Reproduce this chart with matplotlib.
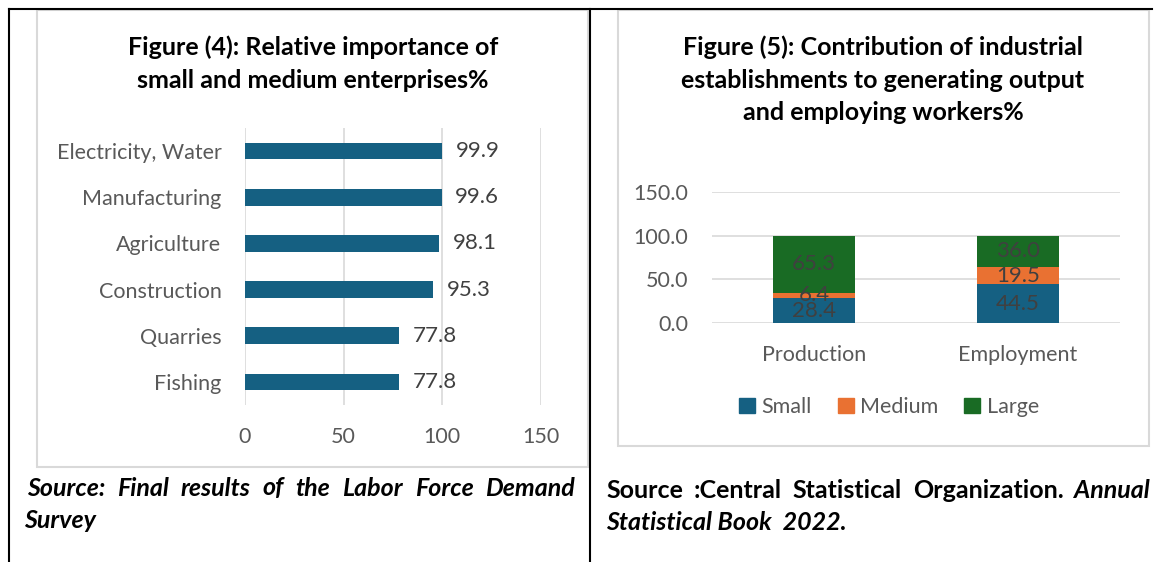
import matplotlib
matplotlib.use("Agg")
import matplotlib.pyplot as plt
from matplotlib.patches import Rectangle, Patch
from matplotlib.lines import Line2D

# Figure (4) data
sectors = ["Electricity, Water", "Manufacturing", "Agriculture", "Construction", "Quarries", "Fishing"]
sme_share = [99.9, 99.6, 98.1, 95.3, 77.8, 77.8]

# Figure (5) data
groups = ["Production", "Employment"]
small = [28.4, 44.5]
medium = [6.4, 19.5]
large = [65.3, 36.0]

W, H = 1159, 562
plt.rcParams['font.family'] = ['Lato', 'DejaVu Sans']
grey_txt = '#595959'
grid_c = '#D9D9D9'
blue, orange, green = '#156082', '#E97132', '#196B24'

fig = plt.figure(figsize=(W / 100, H / 100), dpi=100)


def fx(x):
    return x / W


def fy(y):
    return 1 - y / H


def box(x0, y0, x1, y1, **kw):
    fig.add_artist(Rectangle((fx(x0), fy(y1)), fx(x1) - fx(x0), fy(y0) - fy(y1),
                             transform=fig.transFigure, fill=False, **kw))


def line(xs, ys, **kw):
    fig.add_artist(Line2D([fx(x) for x in xs], [fy(y) for y in ys],
                          transform=fig.transFigure, **kw))


# document table borders and chart frames
line([9, 1152], [9, 9], color='black', lw=1.5)
line([9, 9], [9, 562], color='black', lw=1.5)
line([590, 590], [9, 562], color='black', lw=1.5)
box(37, 10, 588, 467, edgecolor=grid_c, lw=1.5)
box(618, 10, 1149, 446, edgecolor=grid_c, lw=1.5)

# ---- Figure (4): horizontal bars
ax1 = fig.add_axes([fx(245), fy(405), fx(541) - fx(245), fy(128) - fy(405)])
pos = list(range(len(sectors)))
ax1.barh(pos, sme_share, height=0.36, color=blue, zorder=3)
ax1.set_ylim(5.5, -0.5)
ax1.set_xlim(0, 150)
ax1.set_xticks([0, 50, 100, 150])
ax1.set_yticks(pos)
ax1.set_yticklabels(sectors)
ax1.grid(axis='x', color=grid_c, lw=1.2, zorder=0)
for s in ax1.spines.values():
    s.set_visible(False)
ax1.tick_params(length=0, labelsize=15.5, labelcolor=grey_txt)
ax1.tick_params(axis='x', pad=16)
ax1.tick_params(axis='y', pad=17)
for p, v in zip(pos, sme_share):
    ax1.text(v + 7, p, f"{v:.1f}", va='center', ha='left', fontsize=16, color='#404040')

fig.text(fx(313), fy(47), "Figure (4): Relative importance of", ha='center', va='center',
         fontsize=18, fontweight='bold', color='black')
fig.text(fx(313), fy(80), "small and medium enterprises%", ha='center', va='center',
         fontsize=18, fontweight='bold', color='black')

# ---- Figure (5): stacked columns
ax2 = fig.add_axes([fx(712), fy(323), fx(1120) - fx(712), fy(192) - fy(323)])
xpos = list(range(len(groups)))
bottoms2 = small
bottoms3 = [a + b for a, b in zip(small, medium)]
b1 = ax2.bar(xpos, small, width=0.4, color=blue, zorder=3)
b2 = ax2.bar(xpos, medium, width=0.4, bottom=bottoms2, color=orange, zorder=3)
b3 = ax2.bar(xpos, large, width=0.4, bottom=bottoms3, color=green, zorder=3)
for bars in (b1, b2, b3):
    ax2.bar_label(bars, labels=[f"{b.get_height():.1f}" for b in bars], label_type='center',
                  fontsize=16, color='#404040', zorder=4)
ax2.set_xlim(-0.5, 1.5)
ax2.set_ylim(0, 150)
ax2.set_yticks([0, 50, 100, 150])
ax2.set_yticklabels([f"{t:.1f}" for t in [0, 50, 100, 150]])
ax2.set_xticks(xpos)
ax2.set_xticklabels(groups)
ax2.grid(axis='y', color=grid_c, lw=1.2, zorder=0)
for s in ax2.spines.values():
    s.set_visible(False)
ax2.tick_params(length=0, labelsize=15.5, labelcolor=grey_txt)
ax2.tick_params(axis='x', pad=16)
ax2.tick_params(axis='y', pad=17)

handles = [Patch(color=blue, label='Small'), Patch(color=orange, label='Medium'),
           Patch(color=green, label='Large')]
leg = fig.legend(handles=handles, loc='center', bbox_to_anchor=(fx(889), fy(407)), ncol=3,
                 frameon=False, fontsize=15.5, handlelength=0.75, handleheight=0.75,
                 handletextpad=0.3, columnspacing=1.2)
for t in leg.get_texts():
    t.set_color(grey_txt)

fig.text(fx(883), fy(47), "Figure (5): Contribution of industrial", ha='center', va='center',
         fontsize=18, fontweight='bold', color='black')
fig.text(fx(883), fy(80), "establishments to generating output", ha='center', va='center',
         fontsize=18, fontweight='bold', color='black')
fig.text(fx(883), fy(113), "and employing workers%", ha='center', va='center',
         fontsize=18, fontweight='bold', color='black')

# ---- source notes (justified first lines)
fig.canvas.draw()
renderer = fig.canvas.get_renderer()


def justified(words, x0, x1, y, styles):
    items = []
    for w, st in zip(words, styles):
        t = fig.text(0, fy(y), w, va='center', ha='left', fontsize=18, color='black',
                     fontweight='bold', fontstyle=st)
        items.append((t, t.get_window_extent(renderer).width))
    total = sum(wd for _, wd in items)
    gap = (x1 - x0 - total) / (len(items) - 1)
    x = x0
    for t, wd in items:
        t.set_x(fx(x))
        x += wd + gap


left_words = "Source: Final results of the Labor Force Demand".split()
justified(left_words, 27, 575, 488, ['italic'] * len(left_words))
fig.text(fx(24), fy(521), "Survey", va='center', ha='left', fontsize=18,
         fontweight='bold', fontstyle='italic')

right_words = ["Source", ":Central", "Statistical", "Organization.", "Annual"]
justified(right_words, 606, 1150, 490, ['normal'] * 4 + ['italic'])
fig.text(fx(606), fy(522), "Statistical Book  2022.", va='center', ha='left', fontsize=18,
         fontweight='bold', fontstyle='italic')

fig.savefig("out.png", dpi=100)
